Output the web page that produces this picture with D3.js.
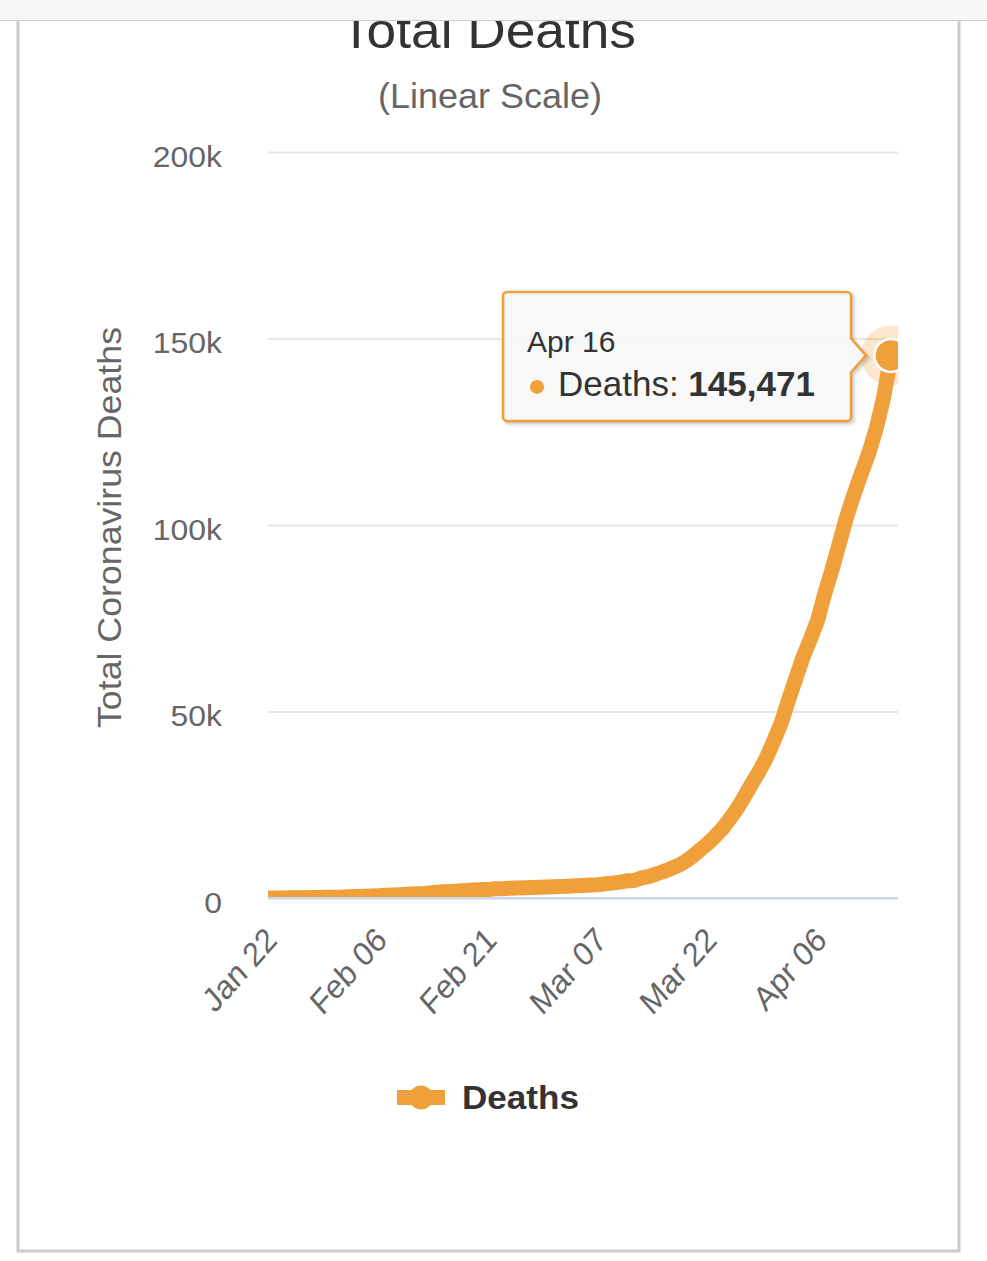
<!DOCTYPE html>
<html>
<head>
<meta charset="utf-8">
<script src="https://cdn.jsdelivr.net/npm/d3@7"></script>
<style>
  html, body { margin: 0; padding: 0; background: #fff; }
  svg { display: block; font-family: "Liberation Sans", Arial, Helvetica, sans-serif; }
</style>
</head>
<body>
<svg id="chart" width="987" height="1261"></svg>
<script>
// ---------- data ----------
const startDate = new Date(2020, 0, 22);
const endDate = new Date(2020, 3, 16);
const deaths = [
  17,18,26,42,56,82,131,133,171,213,
  259,362,426,492,564,634,719,806,906,1013,
  1113,1118,1371,1523,1666,1770,1868,2007,2122,2247,
  2251,2458,2469,2629,2708,2770,2814,2872,2941,
  2996,3085,3160,3254,3348,3460,3558,3802,3988,4262,
  4615,4720,5404,5819,6440,7126,7905,8733,9867,11299,
  12973,14623,16497,18615,21181,23970,27198,30652,33925,37582,42107,
  46809,52983,58787,64606,69374,74565,81865,88338,95455,102525,
  108503,114091,119482,125984,134176,145471
];
const xTickLabels = ["Jan 22", "Feb 06", "Feb 21", "Mar 07", "Mar 22", "Apr 06"];
const yTickValues = [0, 50000, 100000, 150000, 200000];
const yTickLabels = ["0", "50k", "100k", "150k", "200k"];
const seriesName = "Deaths";
const titleText = "Total Deaths";
const subtitleText = "(Linear Scale)";
const yAxisTitle = "Total Coronavirus Deaths";

const dates = d3.timeDay.range(startDate, d3.timeDay.offset(endDate, 1));
const points = dates.map((d, i) => ({ date: d, v: deaths[i] }));
const parse = d3.timeParse("%Y %b %d");
const xTickDates = xTickLabels.map(s => parse("2020 " + s));

// ---------- layout ----------
const COLOR = "#EFA03A";
const plot = { left: 268, right: 898, top: 152, bottom: 898 };
const svg = d3.select("#chart");

const x = d3.scaleTime().domain([startDate, endDate]).range([268, 891]);
const y = d3.scaleLinear().domain([0, 200000]).range([plot.bottom, plot.top]);

// card
svg.append("rect").attr("x", 18).attr("y", 0).attr("width", 941).attr("height", 1251)
  .attr("fill", "#fff").attr("stroke", "#cccccc").attr("stroke-width", 3);

// title + subtitle
svg.append("text").attr("x", 340).attr("y", 48).attr("font-size", 50)
  .attr("fill", "#333").attr("textLength", 296).attr("lengthAdjust", "spacingAndGlyphs")
  .text(titleText);
svg.append("text").attr("x", 378).attr("y", 108).attr("font-size", 35)
  .attr("fill", "#666").attr("textLength", 224).attr("lengthAdjust", "spacingAndGlyphs")
  .text(subtitleText);

// top browser band (covers top of title)
svg.append("rect").attr("x", 0).attr("y", 0).attr("width", 987).attr("height", 20).attr("fill", "#f7f7f7");
svg.append("line").attr("x1", 0).attr("x2", 987).attr("y1", 20.5).attr("y2", 20.5)
  .attr("stroke", "#cfcfcf").attr("stroke-width", 1);

// gridlines
const grid = svg.append("g").attr("transform", `translate(${plot.left},0)`)
  .call(d3.axisLeft(y).tickValues(yTickValues.filter(v => v > 0))
    .tickSize(-(plot.right - plot.left)).tickFormat(""));
grid.select(".domain").remove();
grid.selectAll(".tick line").attr("stroke", "#e6e6e6").attr("stroke-width", 2);

// y labels
const yAx = svg.append("g").attr("transform", `translate(222,0)`)
  .call(d3.axisLeft(y).tickValues(yTickValues).tickSize(0).tickPadding(0)
    .tickFormat((d, i) => yTickLabels[i]));
yAx.select(".domain").remove();
yAx.selectAll(".tick text").attr("font-size", 29).attr("fill", "#666")
  .attr("font-family", "\"Liberation Sans\", Arial, sans-serif")
  .attr("dy", 14).attr("x", 0);
yAx.selectAll(".tick text").each(function () {
  const w = this.getComputedTextLength();
  d3.select(this).attr("textLength", w * 1.1).attr("lengthAdjust", "spacingAndGlyphs");
});

// y-axis title
svg.append("text").attr("transform", `translate(121,527.5) rotate(-90)`)
  .attr("text-anchor", "middle").attr("font-size", 33).attr("fill", "#666")
  .attr("textLength", 401).attr("lengthAdjust", "spacingAndGlyphs")
  .text(yAxisTitle);

// x labels
const xAx = svg.append("g").attr("transform", `translate(0,${plot.bottom})`)
  .call(d3.axisBottom(x).tickValues(xTickDates).tickSize(0)
    .tickFormat((d, i) => xTickLabels[i]));
xAx.select(".domain").remove();
xAx.selectAll(".tick text")
  .attr("font-size", 30).attr("fill", "#666")
  .attr("font-family", "\"Liberation Sans\", Arial, sans-serif")
  .attr("text-anchor", "end").attr("dy", null).attr("y", null)
  .attr("transform", "translate(10,44) scale(1,1.13) rotate(-45)");

// clip
const defs = svg.append("defs");
defs.append("clipPath").attr("id", "plotClip").append("rect")
  .attr("x", plot.left).attr("y", 0).attr("width", plot.right - plot.left).attr("height", plot.bottom);

// series
const line = d3.line().x(d => x(d.date)).y(d => y(d.v));
svg.append("path").datum(points).attr("clip-path", "url(#plotClip)")
  .attr("d", line).attr("fill", "none").attr("stroke", COLOR).attr("stroke-width", 15)
  .attr("stroke-linejoin", "round").attr("stroke-linecap", "round");

// x axis line
svg.append("line").attr("x1", plot.left).attr("x2", plot.right)
  .attr("y1", plot.bottom + 0.3).attr("y2", plot.bottom + 0.3)
  .attr("stroke", "#ccd6eb").attr("stroke-width", 2.6);

// hover marker
const last = points[points.length - 1];
const px = x(last.date), py = y(last.v);
const mk = svg.append("g").attr("clip-path", "url(#plotClip)");
mk.append("circle").attr("cx", px).attr("cy", py).attr("r", 30).attr("fill", COLOR).attr("opacity", 0.25);
mk.append("circle").attr("cx", px).attr("cy", py).attr("r", 16.5).attr("fill", COLOR)
  .attr("stroke", "#fff").attr("stroke-width", 2.5);

// tooltip
const tipX = px - 25, tipY = py;
const bx1 = tipX - 15, bx0 = bx1 - 348, by0 = py - 63.5, by1 = py + 65.5, r = 4;
const p = d3.path();
p.moveTo(bx0 + r, by0);
p.lineTo(bx1 - r, by0);
p.arcTo(bx1, by0, bx1, by0 + r, r);
p.lineTo(bx1, tipY - 17);
p.lineTo(tipX, tipY);
p.lineTo(bx1, tipY + 17);
p.lineTo(bx1, by1 - r);
p.arcTo(bx1, by1, bx1 - r, by1, r);
p.lineTo(bx0 + r, by1);
p.arcTo(bx0, by1, bx0, by1 - r, r);
p.lineTo(bx0, by0 + r);
p.arcTo(bx0, by0, bx0 + r, by0, r);
p.closePath();
const tip = svg.append("g");
[[5, 0.05, 3], [3, 0.1, 2], [1, 0.15, 1]].forEach(([w, o, off]) => {
  tip.append("path").attr("d", p.toString()).attr("fill", "none")
    .attr("stroke", "#000").attr("stroke-opacity", o).attr("stroke-width", w)
    .attr("transform", `translate(${off},${off})`);
});
tip.append("path").attr("d", p.toString()).attr("fill", "rgba(247,247,247,0.88)")
  .attr("stroke", COLOR).attr("stroke-width", 2.5);
tip.append("text").attr("x", bx0 + 24).attr("y", by0 + 60).attr("font-size", 30)
  .attr("fill", "#333").text(d3.timeFormat("%b %d")(last.date));
tip.append("circle").attr("cx", bx0 + 34).attr("cy", by0 + 95).attr("r", 7).attr("fill", COLOR);
const t2 = tip.append("text").attr("x", bx0 + 55).attr("y", by0 + 104.5).attr("font-size", 35).attr("fill", "#333");
t2.append("tspan").text(seriesName + ": ");
t2.append("tspan").attr("font-weight", "bold").text(d3.format(",")(last.v));

// legend
const lg = svg.append("g");
lg.append("line").attr("x1", 397).attr("x2", 445).attr("y1", 1097.5).attr("y2", 1097.5)
  .attr("stroke", COLOR).attr("stroke-width", 15);
lg.append("circle").attr("cx", 421).attr("cy", 1097.5).attr("r", 12).attr("fill", COLOR);
lg.append("text").attr("x", 462).attr("y", 1109).attr("font-size", 34).attr("font-weight", "bold")
  .attr("fill", "#333").attr("textLength", 117).attr("lengthAdjust", "spacingAndGlyphs")
  .text(seriesName);
</script>
</body>
</html>
